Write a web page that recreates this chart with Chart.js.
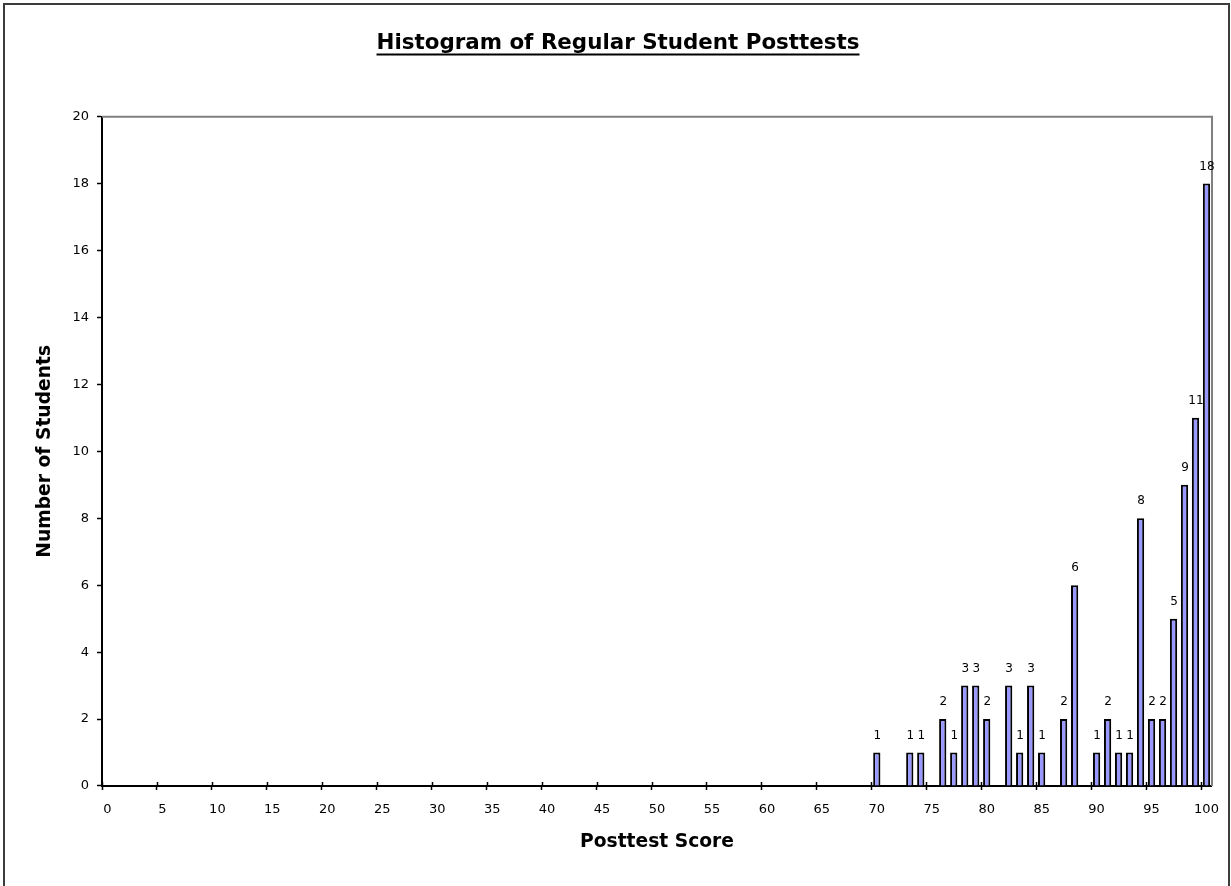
<!DOCTYPE html>
<html>
<head>
<meta charset="utf-8">
<title>Histogram of Regular Student Posttests</title>
<script src="https://cdn.jsdelivr.net/npm/chart.js@4.4.1/dist/chart.umd.min.js"></script>
<style>
  html, body { margin: 0; padding: 0; background: #fff; }
  #wrap { position: relative; width: 1231px; height: 886px; }
</style>
</head>
<body>
<div id="wrap"><canvas id="histogram"></canvas></div>
<script>
"use strict";

(function () {
  var chart_title, x_title, y_title, score_bins, scores, students, y_max, y_step;
  var font_family, bar_fill, bin_counts, frame_plugin, label_plugin, underline_plugin;

  chart_title = 'Histogram of Regular Student Posttests';
  x_title = 'Posttest Score';
  y_title = 'Number of Students';

  // one bin per possible score, 0 .. 100
  score_bins = [];
  for (var s = 0; s <= 100; s++) {
    score_bins.push(String(s));
  }

  // scores somebody actually got, and how many students got them
  scores   = [70, 73, 74, 76, 77, 78, 79, 80, 82, 83, 84, 85, 87, 88, 90, 91, 92, 93, 94, 95, 96, 97, 98, 99, 100];
  students = [ 1,  1,  1,  2,  1,  3,  3,  2,  3,  1,  3,  1,  2,  6,  1,  2,  1,  1,  8,  2,  2,  5,  9, 11,  18];

  y_max = 20;
  y_step = 2;

  // the original text is wide and heavy, DejaVu gets closer than Arial metrics
  font_family = '"DejaVu Sans", "Liberation Sans", Arial, sans-serif';
  bar_fill = '#9999ff';

  bin_counts = score_bins.map(function (bin) {
    var i = scores.indexOf(Number(bin));
    return i === -1 ? null : students[i];
  });

  // outer frame and the grey top/right edges of the plot
  frame_plugin = {
    id: 'frame',
    beforeDraw: function (chart) {
      var ctx = chart.ctx;
      ctx.save();
      ctx.strokeStyle = '#3c3c3c';
      ctx.lineWidth = 2;
      ctx.strokeRect(4, 4, 1225, 900);
      ctx.restore();
    },
    beforeDatasetsDraw: function (chart) {
      var ctx = chart.ctx, a = chart.chartArea;
      ctx.save();
      ctx.strokeStyle = '#808080';
      ctx.lineWidth = 2;
      ctx.beginPath();
      ctx.moveTo(a.left, a.top);
      ctx.lineTo(a.right, a.top);
      ctx.lineTo(a.right, a.bottom);
      ctx.stroke();
      ctx.restore();
    },
    afterDraw: function (chart) {
      // x tick marks poke a little above the axis as well
      var ctx = chart.ctx, xs = chart.scales.x, half, px;
      half = xs.width / score_bins.length / 2;
      ctx.save();
      ctx.strokeStyle = '#000';
      ctx.lineWidth = 1.5;
      ctx.beginPath();
      score_bins.forEach(function (bin, i) {
        if (i % 5 !== 0) {
          return;
        }
        px = Math.round(xs.getPixelForValue(i) - half) + 0.5;
        ctx.moveTo(px, xs.top - 4);
        ctx.lineTo(px, xs.top);
      });
      ctx.stroke();
      ctx.restore();
    }
  };

  // count written above each bar
  label_plugin = {
    id: 'bar_labels',
    afterDatasetsDraw: function (chart) {
      var ctx = chart.ctx, meta = chart.getDatasetMeta(0);
      ctx.save();
      ctx.font = '12px ' + font_family;
      ctx.fillStyle = '#000';
      ctx.textAlign = 'center';
      ctx.textBaseline = 'bottom';
      meta.data.forEach(function (bar, i) {
        var v = bin_counts[i];
        if (v == null) {
          return;
        }
        ctx.fillText(String(v), bar.x + 0.5, bar.y - 11);
      });
      ctx.restore();
    }
  };

  // the title is underlined in the original
  underline_plugin = {
    id: 'title_underline',
    afterDraw: function (chart) {
      var ctx = chart.ctx, tb = chart.titleBlock, w, cx, y;
      if (!tb) {
        return;
      }
      ctx.save();
      ctx.font = 'bold 21.4px ' + font_family;
      w = ctx.measureText(chart_title).width;
      cx = (tb.left + tb.right) / 2;
      y = tb.top + 21 + 12.9 + 10.5;
      ctx.strokeStyle = '#000';
      ctx.lineWidth = 2;
      ctx.beginPath();
      ctx.moveTo(cx - w / 2, y);
      ctx.lineTo(cx + w / 2, y);
      ctx.stroke();
      ctx.restore();
    }
  };

  new Chart(document.getElementById('histogram').getContext('2d'), {
    type: 'bar',
    data: {
      labels: score_bins,
      datasets: [{
        label: y_title,
        data: bin_counts,
        backgroundColor: bar_fill,
        borderColor: '#000',
        borderWidth: 2,
        categoryPercentage: 1,
        barPercentage: 0.66
      }]
    },
    options: {
      responsive: true,
      maintainAspectRatio: false,
      animation: false,
      devicePixelRatio: 1,
      layout: {
        padding: { top: 10, left: 24, right: 19, bottom: 0 }
      },
      plugins: {
        legend: { display: false },
        tooltip: { enabled: false },
        title: {
          display: true,
          text: chart_title,
          color: '#000',
          font: { family: font_family, size: 21.4, weight: 'bold', lineHeight: 1.2 },
          padding: { top: 21, bottom: 60 }
        }
      },
      scales: {
        x: {
          afterFit: function (scale) {
            scale.height = 100;
          },
          grid: {
            offset: true,
            drawOnChartArea: false,
            tickLength: 4,
            tickWidth: 1.5,
            tickColor: function (ctx) {
              return ctx.index % 5 === 0 ? '#000' : 'rgba(0,0,0,0)';
            }
          },
          border: { color: '#000', width: 2 },
          ticks: {
            autoSkip: false,
            maxRotation: 0,
            padding: 12,
            color: '#000',
            font: { family: font_family, size: 13 },
            callback: function (value, index) {
              return index % 5 === 0 ? this.getLabelForValue(value) : '';
            }
          },
          title: {
            display: true,
            text: x_title,
            color: '#000',
            font: { family: font_family, size: 18.7, weight: 'bold', lineHeight: 1.2 },
            padding: { top: 0, bottom: 33 }
          }
        },
        y: {
          min: 0,
          max: y_max,
          afterFit: function (scale) {
            scale.width = 78;
          },
          grid: {
            drawOnChartArea: false,
            tickLength: 5,
            tickWidth: 1.5,
            tickColor: '#000'
          },
          border: { color: '#000', width: 2 },
          ticks: {
            stepSize: y_step,
            padding: 8,
            color: '#000',
            font: { family: font_family, size: 13 }
          },
          title: {
            display: true,
            text: y_title,
            color: '#000',
            font: { family: font_family, size: 18.7, weight: 'bold', lineHeight: 1.2 },
            padding: { top: 10, bottom: 0 }
          }
        }
      }
    },
    plugins: [frame_plugin, label_plugin, underline_plugin]
  });
})();
</script>
</body>
</html>
